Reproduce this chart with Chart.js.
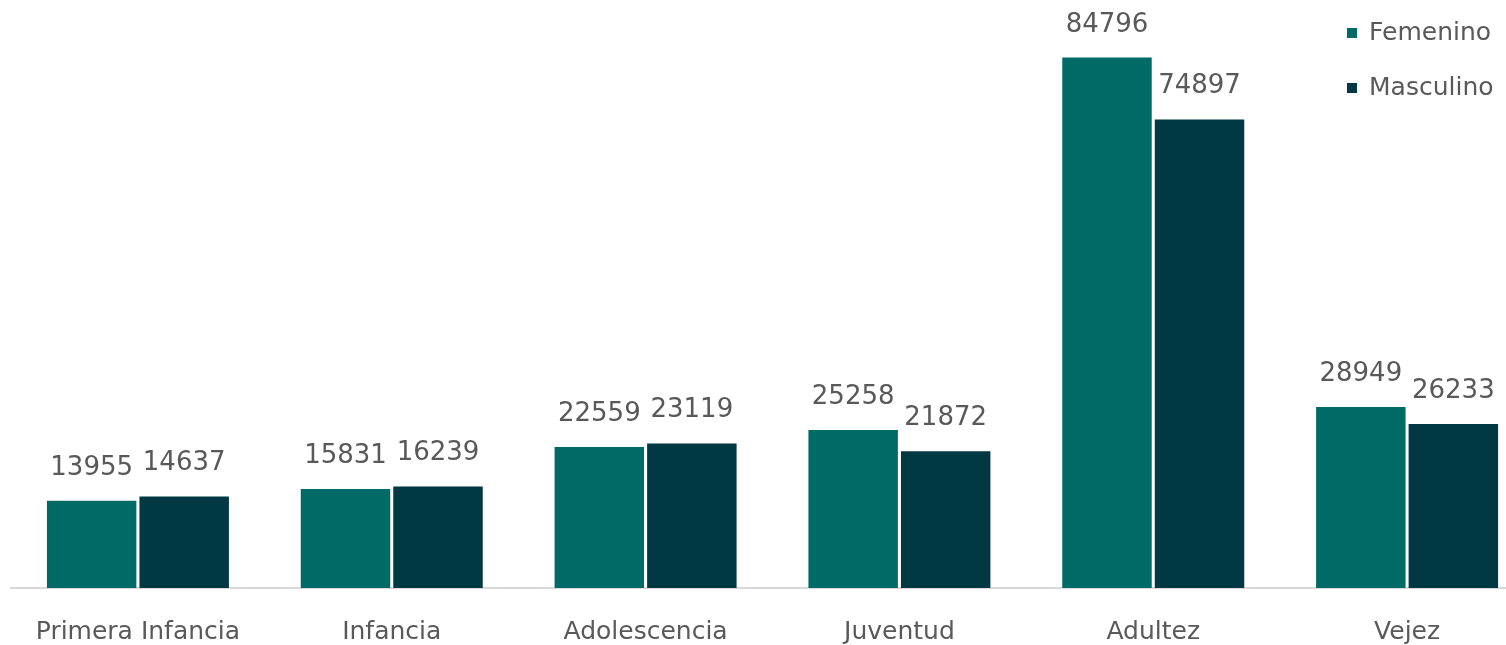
<!DOCTYPE html>
<html>
<head>
<meta charset="utf-8">
<script src="https://cdn.jsdelivr.net/npm/chart.js@4/dist/chart.umd.min.js"></script>
<style>
  html, body { margin: 0; padding: 0; background: #fff; overflow: hidden; }
  #wrap { width: 1540px; height: 645px; position: relative; }
</style>
</head>
<body>
<div id="wrap"><canvas id="bar-chart"></canvas></div>
<script>
// data
const categories = ["Primera Infancia", "Infancia", "Adolescencia", "Juventud", "Adultez", "Vejez"];
const femenino = [13955, 15831, 22559, 25258, 84796, 28949];
const masculino = [14637, 16239, 23119, 21872, 74897, 26233];
const seriesNames = ["Femenino", "Masculino"];
const seriesColors = ["#006B66", "#003843"];

const textColor = "#595959";
const fontFamily = "'DejaVu Sans', sans-serif";

// value labels above each bar
const valueLabels = {
    id: 'valueLabels',
    afterDatasetsDraw(chart) {
        const ctx = chart.ctx;
        ctx.save();
        ctx.font = "26px " + fontFamily;
        ctx.fillStyle = textColor;
        ctx.textAlign = 'center';
        ctx.textBaseline = 'alphabetic';
        chart.data.datasets.forEach((ds, i) => {
            chart.getDatasetMeta(i).data.forEach((bar, j) => {
                ctx.fillText(String(ds.data[j]), bar.x, bar.y - 26);
            });
        });
        ctx.restore();
    }
};

// legend, top right
const sideLegend = {
    id: 'sideLegend',
    afterDraw(chart) {
        const ctx = chart.ctx;
        ctx.save();
        ctx.font = "25px " + fontFamily;
        ctx.textBaseline = 'middle';
        ctx.textAlign = 'left';
        chart.data.datasets.forEach((ds, i) => {
            const y = 33 + i * 55;
            ctx.fillStyle = ds.backgroundColor;
            ctx.fillRect(1347, y - 5, 10, 10);
            ctx.fillStyle = textColor;
            ctx.fillText(ds.label, 1369, y);
        });
        ctx.restore();
    }
};

new Chart(document.getElementById("bar-chart"), {
    type: 'bar',
    data: {
        labels: categories,
        datasets: [
            { label: seriesNames[0], backgroundColor: seriesColors[0], data: femenino },
            { label: seriesNames[1], backgroundColor: seriesColors[1], data: masculino }
        ]
    },
    options: {
        responsive: true,
        maintainAspectRatio: false,
        animation: false,
        categoryPercentage: 0.729,
        barPercentage: 0.967,
        layout: { padding: { left: 11, right: 6, top: 0, bottom: 0 } },
        plugins: {
            legend: { display: false },
            tooltip: { enabled: false }
        },
        scales: {
            x: {
                grid: { display: false, drawTicks: false },
                border: { display: true, color: '#d9d9d9', width: 2 },
                ticks: {
                    color: textColor,
                    font: { family: "'DejaVu Sans'", size: 25 },
                    padding: 29,
                    maxRotation: 0
                },
                afterFit(axis) { axis.height = 57; }
            },
            y: {
                display: false,
                min: 0,
                max: 94000
            }
        }
    },
    plugins: [valueLabels, sideLegend]
});
</script>
</body>
</html>
